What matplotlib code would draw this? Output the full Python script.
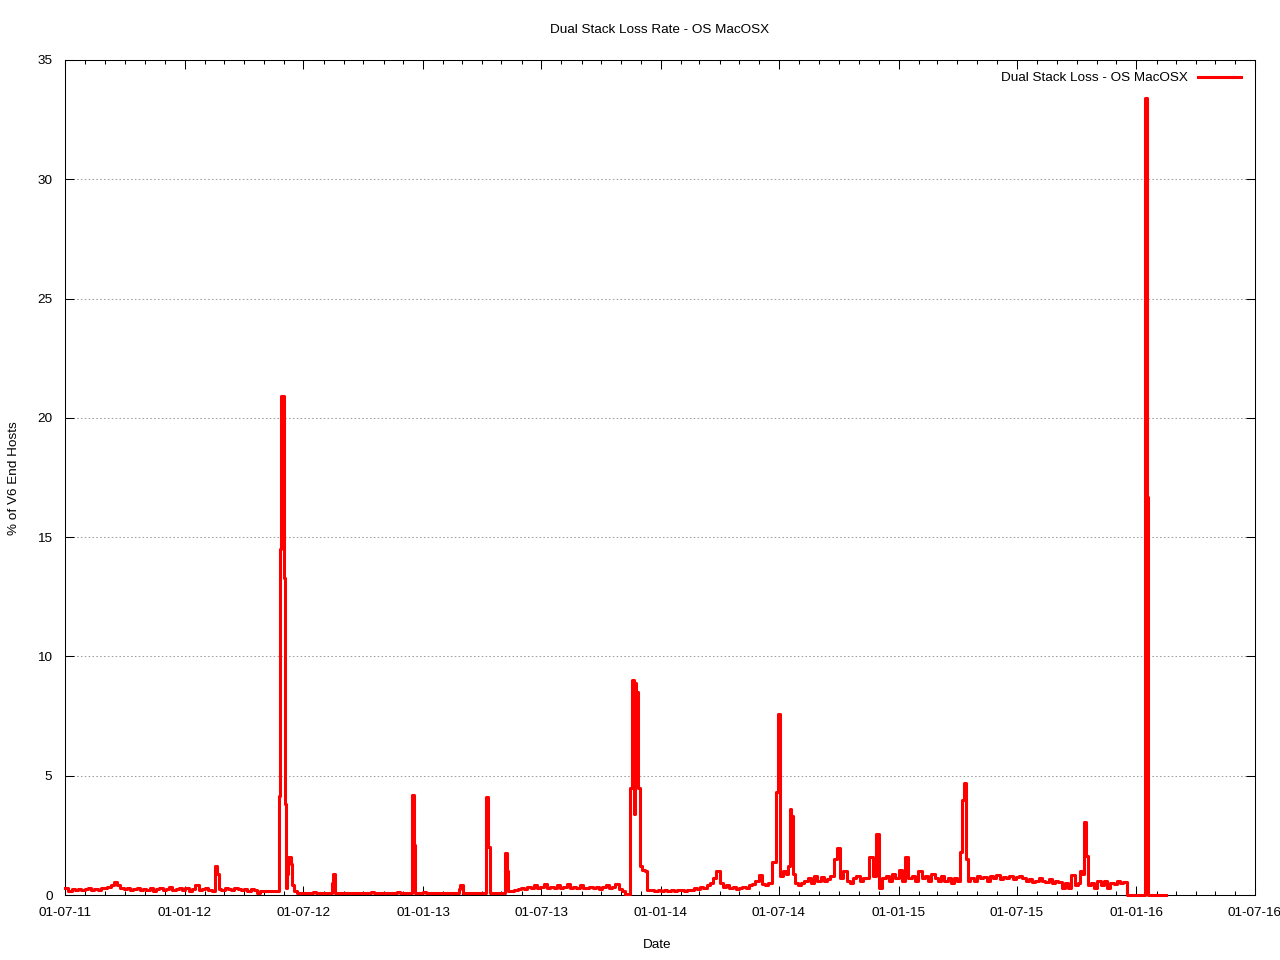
import matplotlib
matplotlib.use("Agg")
import matplotlib.pyplot as plt
import matplotlib.dates as mdates
import numpy as np
import pandas as pd

plt.rcParams['font.family'] = ['Liberation Sans', 'DejaVu Sans']

# ---------------- data ----------------
title = "Dual Stack Loss Rate - OS MacOSX"
series_label = "Dual Stack Loss - OS MacOSX"
x_label = "Date"
y_label = "% of V6 End Hosts"

x_start = "2011-07-01"
x_end = "2016-07-01"
y_ticks = [0, 5, 10, 15, 20, 25, 30, 35]

# baseline samples, one every 5 days from 2011-07-01 (one row ~ 30 days)
base_start = "2011-07-01"
base_step_days = 5
base_values = [
    0.30, 0.15, 0.25, 0.20, 0.25, 0.20,
    0.25, 0.30, 0.20, 0.25, 0.20, 0.30,
    0.30, 0.35, 0.40, 0.55, 0.40, 0.30,
    0.25, 0.30, 0.20, 0.25, 0.30, 0.20,
    0.25, 0.20, 0.30, 0.15, 0.25, 0.30,
    0.20, 0.25, 0.35, 0.20, 0.25, 0.30,
    0.20, 0.30, 0.15, 0.25, 0.40, 0.20,
    0.25, 0.30, 0.20, 0.15, 0.25, 0.20,
    0.20, 0.30, 0.25, 0.20, 0.30, 0.25,
    0.20, 0.25, 0.15, 0.25, 0.20, 0.10,
    0.15, 0.15, 0.15, 0.15, 0.15, 0.15,
    0.10, 0.10, 0.10, 0.10, 0.10, 0.10,
    0.10, 0.08, 0.10, 0.08, 0.12, 0.08,
    0.08, 0.10, 0.08, 0.10, 0.08, 0.10,
    0.10, 0.08, 0.08, 0.10, 0.08, 0.08,
    0.08, 0.10, 0.08, 0.08, 0.12, 0.08,
    0.08, 0.08, 0.10, 0.08, 0.08, 0.10,
    0.12, 0.08, 0.10, 0.08, 0.10, 0.10,
    0.10, 0.08, 0.12, 0.08, 0.10, 0.08,
    0.08, 0.10, 0.08, 0.10, 0.08, 0.10,
    0.08, 0.10, 0.08, 0.10, 0.08, 0.08,
    0.08, 0.10, 0.08, 0.10, 0.08, 0.10,
    0.08, 0.10, 0.08, 0.15, 0.20, 0.18,
    0.20, 0.25, 0.30, 0.25, 0.35, 0.30,
    0.40, 0.30, 0.35, 0.45, 0.30, 0.35,
    0.30, 0.40, 0.30, 0.35, 0.45, 0.30,
    0.35, 0.30, 0.40, 0.30, 0.30, 0.35,
    0.30, 0.35, 0.25, 0.35, 0.40, 0.30,
    0.35, 0.45, 0.25, 0.15, 0.05, 0.05,
    0.20, 0.20, 0.20, 0.20, 0.20, 0.20,
    0.20, 0.15, 0.20, 0.15, 0.20, 0.15,
    0.20, 0.15, 0.20, 0.20, 0.15, 0.20,
    0.20, 0.30, 0.25, 0.35, 0.30, 0.40,
    0.50, 0.70, 1.00, 0.50, 0.35, 0.40,
    0.30, 0.35, 0.25, 0.30, 0.35, 0.30,
    0.40, 0.45, 0.60, 0.85, 0.45, 0.40,
    0.50, 0.50, 1.00, 1.00, 1.00, 1.00,
    1.00, 1.00, 1.00, 0.40, 0.50, 0.60,
    0.70, 0.50, 0.80, 0.60, 0.75, 0.60,
    0.65, 0.80, 1.50, 1.95, 0.70, 1.00,
    0.60, 0.50, 0.70, 0.80, 0.60, 0.70,
    0.70, 1.60, 0.80, 2.55, 0.30, 0.70,
    0.80, 0.60, 0.90, 0.70, 1.05, 0.60,
    1.60, 0.70, 0.80, 0.60, 1.00, 0.70,
    0.80, 0.60, 0.90, 0.70, 0.60, 0.80,
    0.60, 0.70, 0.50, 0.70, 0.60, 0.80,
    0.60, 0.60, 0.70, 0.60, 0.80, 0.70,
    0.75, 0.60, 0.80, 0.70, 0.85, 0.65,
    0.75, 0.70, 0.80, 0.65, 0.75, 0.80,
    0.70, 0.60, 0.65, 0.55, 0.60, 0.70,
    0.60, 0.55, 0.65, 0.50, 0.60, 0.55,
    0.30, 0.50, 0.30, 0.85, 0.40, 0.50,
    0.50, 0.50, 0.50, 0.50, 0.30, 0.60,
    0.40, 0.60, 0.30, 0.50, 0.45, 0.60,
    0.50, 0.55, 0.00, 0.00, 0.00, 0.00,
    0.00, 0.00, 0.00, 0.00, 0.00, 0.00,
    0.00, 0.00, 0.00,
]

# spike episodes (exact dates), each replaces the baseline over its span
spike_dates = [
    ["2012-02-16", "2012-02-19", "2012-02-22"],
    ["2012-05-24", "2012-05-26", "2012-05-27", "2012-06-01", "2012-06-02",
     "2012-06-03", "2012-06-05", "2012-06-06", "2012-06-08", "2012-06-12",
     "2012-06-14", "2012-06-17", "2012-06-21"],
    ["2012-08-14", "2012-08-16", "2012-08-19"],
    ["2012-12-14", "2012-12-18", "2012-12-20"],
    ["2013-02-25", "2013-02-27", "2013-03-03"],
    ["2013-04-08", "2013-04-11", "2013-04-14"],
    ["2013-05-06", "2013-05-09", "2013-05-11"],
    ["2013-11-11", "2013-11-15", "2013-11-17", "2013-11-20", "2013-11-21",
     "2013-11-22", "2013-11-24", "2013-11-27", "2013-11-30", "2013-12-03",
     "2013-12-07", "2013-12-10"],
    ["2014-06-21", "2014-06-26", "2014-06-29", "2014-07-02", "2014-07-07",
     "2014-07-12", "2014-07-15", "2014-07-18", "2014-07-20", "2014-07-22",
     "2014-07-23", "2014-07-26"],
    ["2015-04-05", "2015-04-08", "2015-04-11", "2015-04-15", "2015-04-17"],
    ["2015-10-06", "2015-10-09", "2015-10-13", "2015-10-16", "2015-10-19"],
    ["2016-01-14", "2016-01-17", "2016-01-19"],
]
spike_values = [
    [1.2, 0.9, 0.25],
    [4.15, 14.5, 20.9, 13.3, 7.2, 3.8, 0.3, 0.9, 1.6, 1.3, 0.4, 0.15, 0.1],
    [0.5, 0.9, 0.08],
    [4.2, 2.1, 0.1],
    [0.25, 0.42, 0.1],
    [4.1, 2.0, 0.1],
    [1.75, 1.0, 0.18],
    [0.05, 4.5, 9.0, 8.4, 3.4, 8.9, 8.5, 4.5, 1.2, 1.05, 1.0, 0.2],
    [1.4, 4.3, 7.6, 0.8, 1.0, 0.9, 1.2, 3.6, 3.3, 2.6, 0.9, 0.5],
    [1.8, 4.0, 4.7, 1.5, 0.6],
    [1.0, 0.9, 3.05, 1.65, 0.4],
    [33.4, 16.7, 0.0],
]

# ---------------- assemble series ----------------
base_dates = pd.Timestamp(base_start) + pd.to_timedelta(
    np.arange(len(base_values)) * base_step_days, unit="D")
base = pd.Series(base_values, index=base_dates)
keep = np.ones(len(base), dtype=bool)
parts = []
for dts, vals in zip(spike_dates, spike_values):
    idx = pd.to_datetime(dts)
    keep &= ~((base.index >= idx.min()) & (base.index <= idx.max()))
    parts.append(pd.Series(vals, index=idx))
series = pd.concat([base[keep]] + parts).sort_index()

# ---------------- figure ----------------
fig = plt.figure(figsize=(12.8, 9.6), dpi=100)
ax = fig.add_axes([65 / 1280, 65 / 960, 1190 / 1280, 835 / 960])

line, = ax.plot(series.index, series.values, color="#ff0000", lw=2.2,
                drawstyle="steps-post", clip_on=False, zorder=3,
                label=series_label)

ax.set_xlim(pd.Timestamp(x_start), pd.Timestamp(x_end))
ax.set_ylim(y_ticks[0], y_ticks[-1])
ax.set_yticks(y_ticks)
ax.xaxis.set_major_locator(mdates.MonthLocator(bymonth=[1, 7]))
ax.xaxis.set_minor_locator(mdates.MonthLocator())
ax.xaxis.set_major_formatter(mdates.DateFormatter("%d-%m-%y"))

ax.yaxis.grid(True, color="#a0a0a0", linestyle=(0, (1.5, 2.2)), linewidth=0.75)
ax.set_axisbelow(True)

fs = 9.7
ax.tick_params(which="both", direction="in", top=True, right=True,
               width=0.75, colors="black", labelsize=fs)
ax.tick_params(which="major", length=6.5)
ax.tick_params(which="minor", length=3.2)
ax.tick_params(axis="x", pad=9)
ax.tick_params(axis="y", pad=9)
for s in ax.spines.values():
    s.set_linewidth(0.75)
    s.set_color("black")

fig.text(660 / 1280, 1 - 30 / 960, title, ha="center", va="center", fontsize=fs)
fig.text(657 / 1280, 1 - 945 / 960, x_label, ha="center", va="center", fontsize=fs)
fig.text(14 / 1280, 1 - 478 / 960, y_label, ha="center", va="center",
         rotation=90, fontsize=fs)

fig.legend(handles=[line], loc="center right",
           bbox_to_anchor=(1241 / 1280, 1 - 78 / 960),
           frameon=False, markerfirst=False, borderpad=0, borderaxespad=0,
           handlelength=3.2, handletextpad=0.75, fontsize=fs)

fig.savefig("out.png", dpi=100)
